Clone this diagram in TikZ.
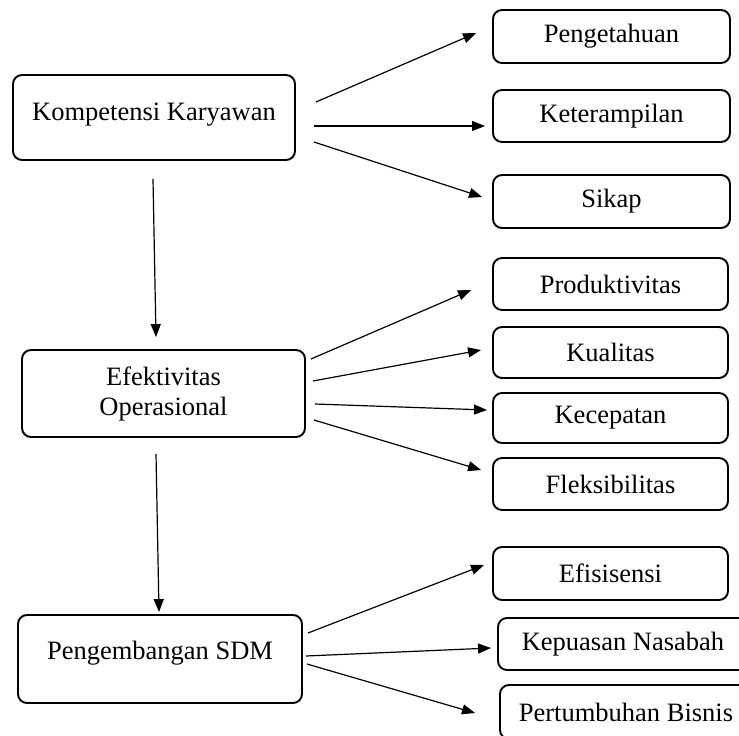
\documentclass[tikz,border=0pt]{standalone}
\usepackage{fontspec}
\setmainfont{Liberation Serif}
\usetikzlibrary{calc,arrows.meta}
\begin{document}
\begin{tikzpicture}[x=1pt,y=-1pt,
  box/.style={draw=black,line width=1.9pt,rounded corners=9pt,align=center,
    inner sep=0pt,font=\fontsize{26.5}{30}\selectfont},
  arr/.style={line width=1.2pt,-{Triangle[length=13pt,width=10pt]}}]
\useasboundingbox (0,0) rectangle (739,736);
\clip (0,0) rectangle (739,736);
% main boxes
\node[box,minimum width=282pt,minimum height=85pt,text depth=11pt] (kk) at (154,117.5) {Kompetensi Karyawan};
\node[box,minimum width=283pt,minimum height=87pt] (eff) at (163.5,393.5) {Efektivitas\\Operasional};
\node[box,minimum width=284pt,minimum height=88pt,text depth=17pt] (pen) at (160,659) {Pengembangan SDM};
% right boxes
\node[box,minimum width=237pt,minimum height=53pt] (peng) at (611.5,36.5) {Pengetahuan};
\node[box,minimum width=237pt,minimum height=52pt] (ket) at (611.5,116) {Keterampilan};
\node[box,minimum width=237pt,minimum height=53pt] (sik) at (611.5,201.5) {Sikap};
\node[box,minimum width=235pt,minimum height=52pt] (prod) at (610.5,284) {Produktivitas};
\node[box,minimum width=235pt,minimum height=51pt] (kual) at (610.5,352.5) {Kualitas};
\node[box,minimum width=235pt,minimum height=50pt] (kec) at (610.5,418) {Kecepatan};
\node[box,minimum width=235pt,minimum height=52pt] (flek) at (610.5,484) {Fleksibilitas};
\node[box,minimum width=235pt,minimum height=53pt] (efis) at (610.5,573.5) {Efisisensi};
\node[box,minimum width=250pt,minimum height=52pt] (kep) at (623,644) {Kepuasan Nasabah};
\node[box,minimum width=252pt,minimum height=54pt] (pert) at (626,712) {Pertumbuhan Bisnis};
% arrows from Kompetensi
\draw[arr] ($(kk.east)+(20,-15.5)$) -- ($(peng.west)+(-16,-3.5)$);
\draw[arr] ($(kk.east)+(18,8.5)$) -- ($(ket.west)+(-7,10)$);
\draw[arr] ($(kk.east)+(18,24.5)$) -- ($(sik.west)+(-10,-4.5)$);
% arrows from Efektivitas
\draw[arr] ($(eff.east)+(5,-34.5)$) -- ($(prod.west)+(-21,6)$);
\draw[arr] ($(eff.east)+(7,-12.5)$) -- ($(kual.west)+(-11,-2.5)$);
\draw[arr] ($(eff.east)+(9,10.5)$) -- ($(kec.west)+(-5,-8)$);
\draw[arr] ($(eff.east)+(8,26.5)$) -- ($(flek.west)+(-11,-14)$);
% arrows from Pengembangan
\draw[arr] ($(pen.east)+(5,-26)$) -- ($(efis.west)+(-8,-8.5)$);
\draw[arr] ($(pen.east)+(3,-3)$) -- ($(kep.west)+(-6,4)$);
\draw[arr] ($(pen.east)+(4,5)$) -- ($(pert.west)+(-24,1)$);
% vertical arrows
\draw[arr] ($(kk.south)+(-1,18)$) -- ($(eff.north)+(-7.5,-12)$);
\draw[arr] ($(eff.south)+(-7.5,16)$) -- ($(pen.north)+(-1,-2)$);
\end{tikzpicture}
\end{document}
